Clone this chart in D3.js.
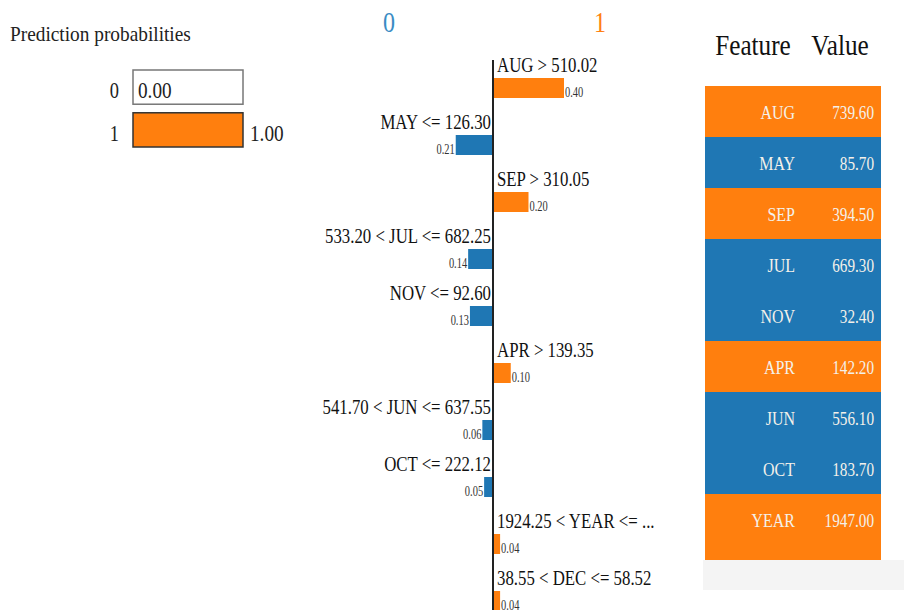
<!DOCTYPE html>
<html>
<head>
<meta charset="utf-8">
<script src="https://cdn.jsdelivr.net/npm/d3@7"></script>
<style>
  body { margin: 0; background: #fff; }
</style>
</head>
<body>
<div id="chart"></div>
<script>
;(function() {
  'use strict';

  // Prediction probabilities
  var classNames = ['0', '1'];
  var classProbs = [0.00, 1.00];

  // Explanation: feature conditions and their weights (negative = class 0)
  var conditions = ['AUG > 510.02', 'MAY <= 126.30', 'SEP > 310.05',
                    '533.20 < JUL <= 682.25', 'NOV <= 92.60', 'APR > 139.35',
                    '541.70 < JUN <= 637.55', 'OCT <= 222.12',
                    '1924.25 < YEAR <= ...', '38.55 < DEC <= 58.52'];
  var weights = [0.40, -0.21, 0.20, -0.14, -0.13, 0.10, -0.06, -0.05, 0.04, 0.04];

  // Feature / value table
  var tableFeatures = ['AUG', 'MAY', 'SEP', 'JUL', 'NOV', 'APR', 'JUN', 'OCT', 'YEAR', 'DEC'];
  var tableValues = ['739.60', '85.70', '394.50', '669.30', '32.40', '142.20', '556.10', '183.70', '1947.00', ''];

  var orange = '#ff7f0e', blue = '#1f77b4';
  var width = 904, height = 610;

  var svg = d3.select('#chart').append('svg')
      .attr('width', width).attr('height', height)
      .attr('font-family', "'Liberation Serif', 'DejaVu Serif', serif")
      .style('display', 'block');

  // The source text looks horizontally narrowed: fit each text to k times
  // its natural width.
  function condense(k) {
    return function(sel) {
      sel.each(function() {
        var len = this.getComputedTextLength();
        if (len > 0) {
          d3.select(this).attr('textLength', len * k)
            .attr('lengthAdjust', 'spacingAndGlyphs');
        }
      });
    };
  }

  // ---- Prediction probabilities ----
  svg.append('text')
      .attr('x', 10).attr('y', 41)
      .attr('font-size', 21).attr('fill', '#222')
      .text('Prediction probabilities')
      .call(condense(0.92));

  var pScale = d3.scaleLinear().domain([0, 1]).range([133, 243]);
  var pY = d3.scaleBand().domain(classNames).range([70, 147]).paddingInner(0.2);

  var probs = classNames.map(function(c, i) { return {name: c, p: classProbs[i]}; });
  var pg = svg.append('g').selectAll('g').data(probs).enter().append('g');

  pg.append('rect')
      .attr('x', pScale(0)).attr('y', function(d) { return pY(d.name); })
      .attr('width', function(d) { return pScale(d.p) - pScale(0); })
      .attr('height', pY.bandwidth())
      .attr('fill', function(d, i) { return i === 1 ? orange : blue; });
  pg.append('rect')
      .attr('x', pScale(0)).attr('y', function(d) { return pY(d.name); })
      .attr('width', pScale(1) - pScale(0)).attr('height', pY.bandwidth())
      .attr('fill', 'none')
      .attr('stroke', function(d, i) { return i === 1 ? '#333' : '#777'; })
      .attr('stroke-width', 1.5);
  pg.append('text')
      .attr('x', pScale(0) - 14).attr('y', function(d) { return pY(d.name) + pY.bandwidth() - 6; })
      .attr('text-anchor', 'end').attr('font-size', 23).attr('fill', '#222')
      .text(function(d) { return d.name; })
      .call(condense(0.8));
  pg.append('text')
      .attr('x', function(d) { return d.p < 0.5 ? pScale(0) + 5 : pScale(d.p) + 7; })
      .attr('y', function(d) { return pY(d.name) + pY.bandwidth() - 6; })
      .attr('font-size', 24).attr('fill', '#222')
      .text(function(d) { return d.p.toFixed(2); })
      .call(condense(0.8));

  // ---- Explanation bars ----
  var xScale = d3.scaleLinear().domain([0, 0.40]).range([493, 564]);
  var yScale = d3.scaleBand().domain(conditions).range([60, 60 + 57 * conditions.length]);
  var bars = conditions.map(function(c, i) { return {label: c, w: weights[i]}; });

  svg.append('text').attr('x', 389).attr('y', 32).attr('text-anchor', 'middle')
      .attr('font-size', 30).attr('fill', '#3a8cc4').text(classNames[0]).call(condense(0.8));
  svg.append('text').attr('x', 600).attr('y', 32).attr('text-anchor', 'middle')
      .attr('font-size', 30).attr('fill', orange).text(classNames[1]).call(condense(0.8));

  var bg = svg.append('g').selectAll('g').data(bars).enter().append('g');

  bg.append('rect')
      .attr('x', function(d) { return Math.min(xScale(0), xScale(d.w)); })
      .attr('y', function(d) { return yScale(d.label) + 18; })
      .attr('width', function(d) { return Math.abs(xScale(d.w) - xScale(0)); })
      .attr('height', 20)
      .attr('fill', function(d) { return d.w > 0 ? orange : blue; });

  bg.append('text')
      .attr('x', function(d) { return d.w > 0 ? xScale(0) + 4 : xScale(0) - 2; })
      .attr('y', function(d) { return yScale(d.label) + 12; })
      .attr('text-anchor', function(d) { return d.w > 0 ? 'start' : 'end'; })
      .attr('font-size', 20).attr('fill', '#111')
      .text(function(d) { return d.label; })
      .call(condense(0.84));

  bg.append('text')
      .attr('x', function(d) { return d.w > 0 ? xScale(d.w) + 1 : xScale(d.w) - 1; })
      .attr('y', function(d) { return yScale(d.label) + 37; })
      .attr('text-anchor', function(d) { return d.w > 0 ? 'start' : 'end'; })
      .attr('font-size', 14.5).attr('fill', '#333')
      .text(function(d) { return Math.abs(d.w).toFixed(2); })
      .call(condense(0.72));

  svg.append('line')
      .attr('x1', xScale(0)).attr('x2', xScale(0))
      .attr('y1', 60).attr('y2', height)
      .attr('stroke', '#222').attr('stroke-width', 2);

  // ---- Feature / value table ----
  svg.append('rect').attr('x', 703).attr('y', 560).attr('width', 201).attr('height', 30)
      .attr('fill', '#f4f4f4');

  svg.append('text').attr('x', 753).attr('y', 55).attr('text-anchor', 'middle')
      .attr('font-size', 30).attr('fill', '#111').text('Feature').call(condense(0.84));
  svg.append('text').attr('x', 840).attr('y', 55).attr('text-anchor', 'middle')
      .attr('font-size', 30).attr('fill', '#111').text('Value').call(condense(0.84));

  svg.append('clipPath').attr('id', 'tclip')
    .append('rect').attr('x', 705).attr('y', 86).attr('width', 176).attr('height', 474);

  var tY = d3.scaleBand().domain(tableFeatures).range([86, 86 + 51 * tableFeatures.length]);
  var rows = tableFeatures.map(function(f, i) {
    return {f: f, v: tableValues[i], w: weights[i]};
  });

  var tg = svg.append('g').attr('clip-path', 'url(#tclip)')
    .selectAll('g').data(rows).enter().append('g');

  tg.append('rect')
      .attr('x', 705).attr('y', function(d) { return tY(d.f); })
      .attr('width', 176).attr('height', tY.bandwidth() + 0.5)
      .attr('fill', function(d) { return d.w > 0 ? orange : blue; });
  tg.append('text')
      .attr('x', 795).attr('y', function(d) { return tY(d.f) + tY.bandwidth() / 2 + 7; })
      .attr('text-anchor', 'end').attr('font-size', 19).attr('fill', '#f4f1ea')
      .text(function(d) { return d.f; })
      .call(condense(0.84));
  tg.append('text')
      .attr('x', 874).attr('y', function(d) { return tY(d.f) + tY.bandwidth() / 2 + 7; })
      .attr('text-anchor', 'end').attr('font-size', 19).attr('fill', '#f4f1ea')
      .text(function(d) { return d.v; })
      .call(condense(0.8));
}());
</script>
</body>
</html>
